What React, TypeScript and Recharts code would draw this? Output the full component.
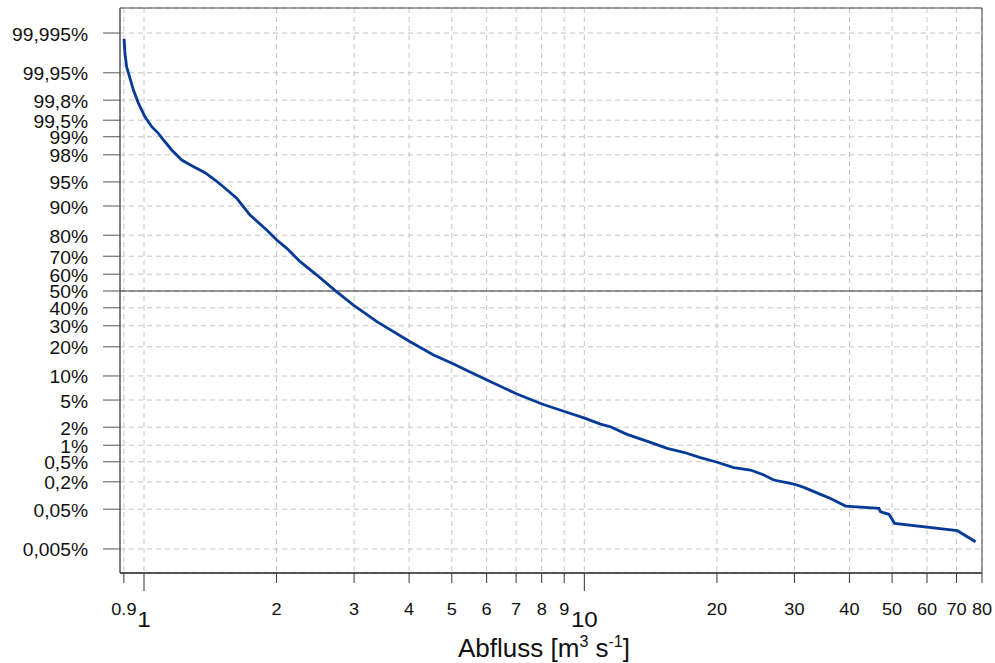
import { CartesianGrid, Line, LineChart, ReferenceArea, ReferenceLine, XAxis, YAxis } from "recharts";

// discharge [m3/s] and exceedance probability [%]
const flow = [
  0.901, 0.905, 0.913, 0.929, 0.946, 0.971, 1.005, 1.041, 1.078, 1.116, 1.156, 1.218, 1.284, 1.376, 1.45, 1.528,
  1.624, 1.741, 1.9, 2.002, 2.11, 2.263, 2.469, 2.718, 2.99, 3.38, 4.022, 4.545, 5.005, 5.413, 6.061, 7.031, 8.014,
  9.05, 10.05, 10.88, 11.46, 12.5, 14.13, 15.42, 16.81, 18.35, 20.03, 21.84, 23.84, 25.56, 26.93, 29.91, 31.51,
  34.39, 36.24, 39.2, 46.66, 47.07, 49.17, 50.65, 70.31, 77.38,
];
const exceedance = [
  99.9928, 99.9835, 99.964, 99.934, 99.878, 99.77, 99.57, 99.34, 99.13, 98.78, 98.33, 97.59, 97.06, 96.28, 95.29,
  93.93, 91.9, 87.4, 82.1, 77.9, 74.0, 67.1, 59.5, 50.2, 41.6, 32.2, 22.2, 16.7, 13.8, 11.5, 8.8, 6.0, 4.42, 3.43,
  2.74, 2.24, 2.03, 1.53, 1.12, 0.88, 0.75, 0.6, 0.49, 0.385, 0.347, 0.276, 0.218, 0.18, 0.153, 0.108, 0.088, 0.059,
  0.052, 0.0436, 0.0379, 0.0229, 0.015, 0.0078,
];

const yTickPercents = [
  0.005, 0.05, 0.2, 0.5, 1, 2, 5, 10, 20, 30, 40, 50, 60, 70, 80, 90, 95, 98, 99, 99.5, 99.8, 99.95, 99.995,
];
const xTicks = [0.9, 1, 2, 3, 4, 5, 6, 7, 8, 9, 10, 20, 30, 40, 50, 60, 70, 80];
const xMajor = [1, 10];

const FONT = "'Liberation Sans', Arial, sans-serif";

// inverse standard normal CDF (Acklam), used for the probability axis
function qnorm(p: number) {
  const a = [-39.69683028665376, 220.9460984245205, -275.9285104469687, 138.357751867269, -30.66479806614716, 2.506628277459239];
  const b = [-54.47609879822406, 161.5858368580409, -155.6989798598866, 66.80131188771972, -13.28068155288572];
  const c = [-0.007784894002430293, -0.3223964580411365, -2.400758277161838, -2.549732539343734, 4.374664141464968, 2.938163982698783];
  const d = [0.007784695709041462, 0.3224671290700398, 2.445134137142996, 3.754408661907416];
  const pl = 0.02425;
  if (p < pl) {
    const q = Math.sqrt(-2 * Math.log(p));
    return (((((c[0] * q + c[1]) * q + c[2]) * q + c[3]) * q + c[4]) * q + c[5]) / ((((d[0] * q + d[1]) * q + d[2]) * q + d[3]) * q + 1);
  }
  if (p <= 1 - pl) {
    const q = p - 0.5;
    const r = q * q;
    return ((((((a[0] * r + a[1]) * r + a[2]) * r + a[3]) * r + a[4]) * r + a[5]) * q) / (((((b[0] * r + b[1]) * r + b[2]) * r + b[3]) * r + b[4]) * r + 1);
  }
  const q = Math.sqrt(-2 * Math.log(1 - p));
  return -(((((c[0] * q + c[1]) * q + c[2]) * q + c[3]) * q + c[4]) * q + c[5]) / ((((d[0] * q + d[1]) * q + d[2]) * q + d[3]) * q + 1);
}

const toZ = (pct: number) => qnorm(pct / 100);

const data = flow.map((q, i) => ({ q, z: toZ(exceedance[i]) }));
const yTicks = yTickPercents.map(toZ);
const yLabel = new Map(yTicks.map((z, i) => [z, String(yTickPercents[i]).replace(".", ",") + "%"]));

const Y_DOMAIN: [number, number] = [-4.253, 4.268];
const X_DOMAIN: [number, number] = [0.882, 80];

function YTick(props: any) {
  const { x, y, payload } = props;
  return (
    <g>
      <line x1={x - 17} x2={x} y1={y} y2={y} stroke="#555" strokeWidth={1} />
      <text transform={`translate(${x - 32},${y + 7.5}) scale(1.1,1)`} textAnchor="end" fontSize={17.5} fontFamily={FONT} fill="#111">
        {yLabel.get(payload.value)}
      </text>
    </g>
  );
}

function XTick(props: any) {
  const { x, y, payload } = props;
  const major = xMajor.includes(payload.value);
  return (
    <g>
      <line x1={x} x2={x} y1={y} y2={y + (major ? 18 : 10)} stroke="#333" strokeWidth={1} />
      <text
        transform={`translate(${x},${y + (major ? 54 : 42)}) scale(1.1,1)`}
        textAnchor="middle"
        fontSize={major ? 22 : 16.5}
        fontFamily={FONT}
        fill="#111"
      >
        {String(payload.value)}
      </text>
    </g>
  );
}

export default function App() {
  return (
    <div style={{ position: "absolute", left: 0, top: 0, background: "#fff" }}>
      <LineChart width={995} height={663} data={data} margin={{ top: 8, right: 13, bottom: 0, left: 0 }}>
        <CartesianGrid stroke="#c4c4c4" strokeDasharray="5 4" strokeWidth={1} />
        <XAxis
          dataKey="q"
          type="number"
          scale="log"
          domain={X_DOMAIN}
          allowDataOverflow
          ticks={xTicks}
          interval={0}
          height={90}
          tickSize={0}
          tickMargin={0}
          tickLine={false}
          axisLine={{ stroke: "#111", strokeWidth: 1 }}
          tick={(p: any) => <XTick {...p} />}
        />
        <YAxis
          dataKey="z"
          type="number"
          domain={Y_DOMAIN}
          allowDataOverflow
          ticks={yTicks}
          interval={0}
          width={120}
          tickSize={0}
          tickMargin={0}
          tickLine={false}
          axisLine={{ stroke: "#666", strokeWidth: 1 }}
          tick={(p: any) => <YTick {...p} />}
        />
        <ReferenceArea x1={X_DOMAIN[0]} x2={X_DOMAIN[1]} y1={Y_DOMAIN[0]} y2={Y_DOMAIN[1]} fill="none" stroke="#444" strokeWidth={1} />
        <ReferenceLine y={0} stroke="#333" strokeWidth={1} />
        <Line type="linear" dataKey="z" stroke="#063a97" strokeWidth={2.8} dot={false} isAnimationActive={false} />
        <text x={544} y={657} textAnchor="middle" fontSize={26} fontFamily={FONT} fill="#111">
          Abfluss [m
          <tspan fontSize={16} dy={-10}>3</tspan>
          <tspan dy={10}> s</tspan>
          <tspan fontSize={16} dy={-10}>-1</tspan>
          <tspan dy={10}>]</tspan>
        </text>
      </LineChart>
    </div>
  );
}
